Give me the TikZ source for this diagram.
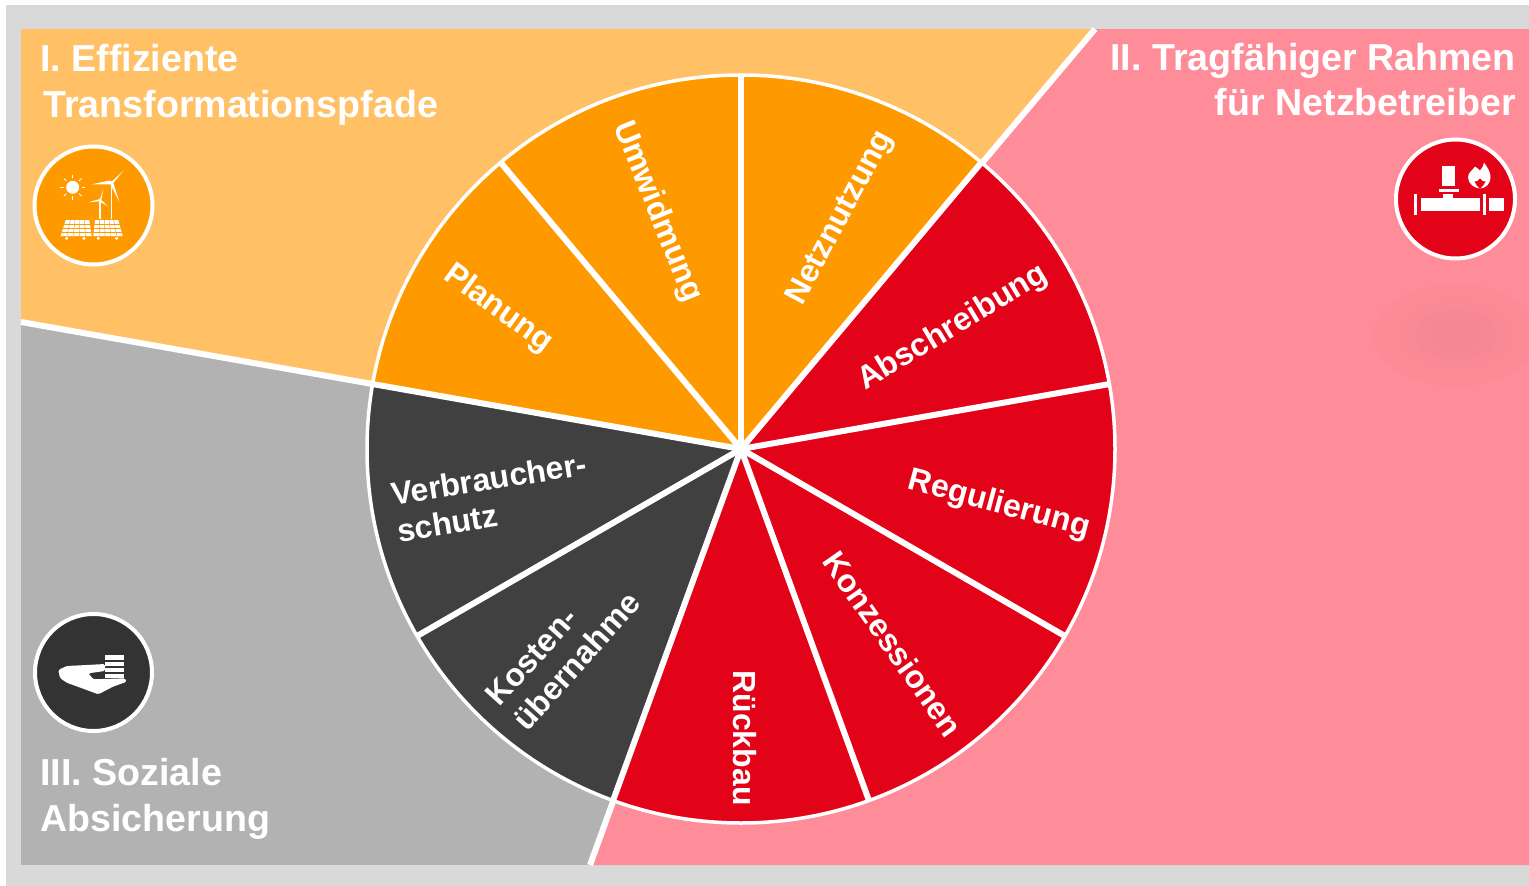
\documentclass[tikz,border=0pt]{standalone}
\usepackage{fontspec}
\usetikzlibrary{calc}
\setmainfont{Liberation Sans}
\definecolor{frameG}{HTML}{D9D9D9}
\definecolor{bgO}{HTML}{FFC066}
\definecolor{bgR}{HTML}{FF8C99}
\definecolor{bgG}{HTML}{B2B2B2}
\definecolor{sliceO}{HTML}{FF9900}
\definecolor{sliceR}{HTML}{E30318}
\definecolor{sliceD}{HTML}{404040}
\definecolor{iconD}{HTML}{333333}
% angles are given counter-clockwise on screen; y points down, hence the minus signs
\newcommand{\wedgeat}[3]{\fill[#3] (741,449) -- ++(-#1:374) arc[start angle=-#1,end angle=-#2,radius=374] -- cycle;}
\tikzset{
  x=1pt,y=-1pt,
  seg/.style={font=\bfseries\fontsize{32}{37}\selectfont,text=white,align=center,inner sep=0},
  segl/.style={seg,align=left},
  ttl/.style={font=\bfseries\fontsize{37.6}{46}\selectfont,text=white,inner sep=0},
  badge/.style={draw=white,line width=4pt},
  ico/.style={fill=white,draw=none},
  icoline/.style={draw=white,line width=1.3pt},
  gridline/.style={draw=sliceO,line width=.45pt},
}
\begin{document}
\begin{tikzpicture}
\useasboundingbox (0,0) rectangle (1529,886);
\fill[white] (0,0) rectangle (1529,886);
\fill[frameG] (6,5) rectangle (1529,886);
% sector backgrounds
\fill[bgG] (21,29) rectangle (1529,865);
\fill[bgO] (21,29) -- (1095,29) -- (741,449) -- (21,322) -- cycle;
\fill[bgR] (1095,29) -- (1529,29) -- (1529,865) -- (590,865) -- (741,449) -- cycle;
\foreach \r in {12,24,...,72}{\fill[black!35!bgR,opacity=.02] (1456,335) ellipse[x radius=\r*1.15,y radius=\r*.72];}
\coordinate (ctr) at (741,449);
\coordinate (edgeA) at (1095,29);
\coordinate (edgeB) at (21,322);
\coordinate (edgeC) at (590,865);
\draw[white,line width=6pt] (ctr) -- (edgeA) (ctr) -- (edgeB) (ctr) -- (edgeC);
% pie
\wedgeat{90}{50}{sliceO}
\wedgeat{130}{90}{sliceO}
\wedgeat{170}{130}{sliceO}
\wedgeat{50}{10}{sliceR}
\wedgeat{10}{-30}{sliceR}
\wedgeat{-30}{-70}{sliceR}
\wedgeat{-70}{-110}{sliceR}
\wedgeat{-110}{-150}{sliceD}
\wedgeat{-150}{-190}{sliceD}
\draw[white,line width=3.5pt] (ctr) circle[radius=374];
\foreach \a in {90,50,10,-30,-70,-110,-150,170,130}{\draw[white,line width=6pt] (ctr) -- ++(-\a:374);}
% segment labels
\node[seg,rotate=-36] (l1) at (498,309) {Planung};
\node[seg,rotate=-68] (l2) at (657,212) {Umwidmung};
\node[seg,rotate=62] (l3) at (841,218) {Netznutzung};
\node[seg,rotate=31] (l4) at (953,328) {Abschreibung};
\node[seg,rotate=-15] (l5) at (999,505) {Regulierung};
\node[seg,rotate=-55] (l6) at (893,644) {Konzessionen};
\node[seg,rotate=-90] (l7) at (745,738) {Rückbau};
\node[segl,rotate=48] (l8) at (563,649) {Kosten-\\übernahme};
\node[segl,rotate=9] (l9) at (492,497) {Verbraucher-\\schutz};
% titles
\node[ttl,anchor=base west] (t1) at (40,71) {I. Effiziente};
\node[ttl,anchor=base west] (t1b) at (43,117) {Transformationspfade};
\node[ttl,anchor=base east] (t2) at (1516,70) {II. Tragfähiger Rahmen};
\node[ttl,anchor=base east] (t2b) at (1516,115) {für Netzbetreiber};
\node[ttl,anchor=base west] (t3) at (40,785) {III. Soziale};
\node[ttl,anchor=base west] (t3b) at (40,831) {Absicherung};
% badge 1
\fill[sliceO,badge] (93.5,205.5) circle[radius=59];
\fill[ico] (72.7,187.3) circle[radius=6.5];
\foreach \a in {0,45,...,315}{\draw[white,line width=.9pt] (72.7,187.3) ++(\a:9) -- ++(\a:3.5);}
\draw[icoline] (111.7,182) -- (111.7,219);
\fill[ico] (111.7,181.7) -- (123.3,170.7) -- (113.3,183) -- (119.3,201.7) -- (110.3,184.3) -- (91.7,184.3) -- (110,180.5) -- cycle;
\draw[icoline] (100,200) -- (100,219);
\fill[ico] (100,199) -- (103.3,189.3) -- (101.3,200) -- (107.3,206) -- (99.5,201.3) -- (88.3,202.3) -- cycle;
\fill[ico] (65.7,220) -- (89.3,220) -- (91.7,236) -- (60.7,236) -- cycle;
\fill[ico] (95,220) -- (118.3,220) -- (122.7,236) -- (93.3,236) -- cycle;
\foreach \y in {224,228,232}{\draw[gridline] (62,\y) -- (91,\y) (94,\y) -- (122,\y);}
\foreach \t in {.2,.4,.6,.8}{
  \draw[gridline] ($(65.7,220)!\t!(89.3,220)$) -- ($(60.7,236)!\t!(91.7,236)$);
  \draw[gridline] ($(95,220)!\t!(118.3,220)$) -- ($(93.3,236)!\t!(122.7,236)$);
}
\foreach \x in {66.7,84,98.3,116.7}{\fill[ico] (\x,238.3) circle[radius=1.7];}
% badge 2
\fill[sliceR,badge] (1455.5,199) circle[radius=59.5];
\fill[ico] (1441.7,165.7) rectangle (1455,185.7);
\fill[ico] (1439,189) rectangle (1459,191.7);
\fill[ico] (1443.3,194) rectangle (1453.3,199);
\fill[ico] (1420.7,198.3) rectangle (1480,210.7);
\fill[ico] (1414,194) rectangle (1417.3,215);
\fill[ico] (1483.3,194) rectangle (1486,215);
\fill[ico] (1489.3,197.7) rectangle (1504.3,210.7);
\fill[ico] (1480,188.5) .. controls (1474,188) and (1468.5,184) .. (1468,177.5) .. controls (1468,172) and (1473,170) .. (1475,166.5) .. controls (1477,168) and (1478.5,169) .. (1480,170.5) .. controls (1482,168) and (1483.5,166) .. (1484,162.5) .. controls (1487,167) and (1491,172) .. (1490.5,178) .. controls (1490,184) and (1486,188) .. (1480,188.5) -- cycle;
\fill[sliceR] (1480,188.8) .. controls (1477.5,186) and (1475,184) .. (1474.5,181.5) .. controls (1476.5,182) and (1478,181) .. (1480,178.5) .. controls (1482,181) and (1483.5,182) .. (1485.5,181.5) .. controls (1485,184) and (1482.5,186) .. (1480,188.8) -- cycle;
% badge 3
\fill[iconD,badge] (93.5,672.5) circle[radius=58.5];
\fill[ico] (104.5,655) rectangle (124,659.5);
\fill[ico] (104.5,661.5) rectangle (124,666);
\fill[ico] (104.5,668) rectangle (124,672);
\fill[ico] (104.5,674) rectangle (124,678);
\fill[ico,rounded corners=1.5pt] (58.3,670) -- (66.7,666) -- (86.7,665) -- (105,664) -- (105,671) -- (88.3,673.3) -- (93.3,679.3) -- (125,678.3) -- (126.7,681.7) -- (113,686.7) -- (98.3,694.3) -- (86.7,690) -- (66.7,682.7) -- (60,678) -- cycle;
\end{tikzpicture}
\end{document}
